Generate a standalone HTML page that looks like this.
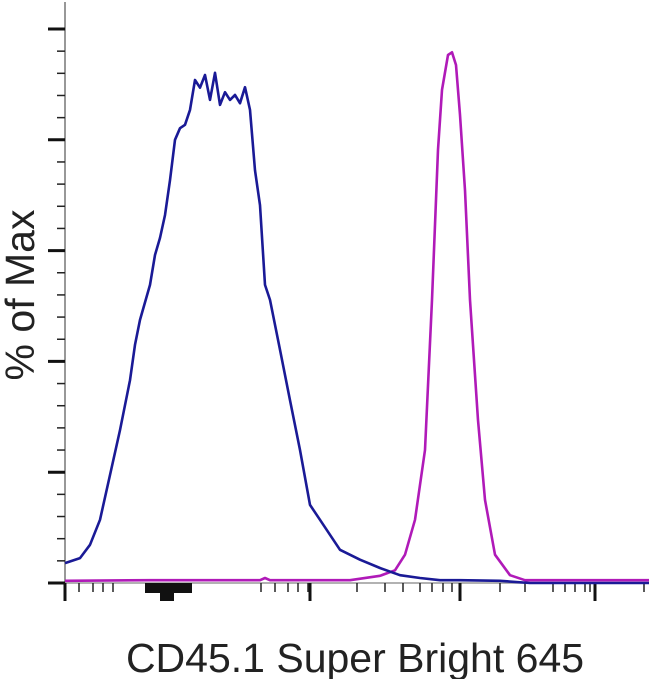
<!DOCTYPE html>
<html><head><meta charset="utf-8"><style>
html,body{margin:0;padding:0;background:#fff;}
svg{display:block;font-family:"Liberation Sans",sans-serif;}
</style></head><body>
<svg id="chart" width="650" height="679" viewBox="0 0 650 679">
<g id="axes"></g>
<g id="series"></g>
<text transform="translate(34,295) rotate(-90)" text-anchor="middle" font-size="41" fill="#222">% of Max</text>
<text x="355" y="672" text-anchor="middle" font-size="41" fill="#222">CD45.1 Super Bright 645</text>
</svg>
<script>
// channel values (linear display domain 0..584)
const blueX = [0,15,25,35,45,55,65,70,75,85,90,95,100,105,110,115,120,125,130,135,140,145,150,155,160,165,170,175,180,185,190,195,200,205,215,225,235,245,255,275,295,315,335,355,375,395,435,465,584];
const blueY = [3.6,4.5,6.9,11.4,19.5,27.6,36.6,43,47.5,53.8,59.2,62.3,66.4,72.7,80,82.1,82.7,85.4,90.8,89.4,91.7,87.2,92.1,86.3,88.6,87.2,88.1,86.6,89.5,85.4,74.5,68.2,53.8,51.1,42.1,33,24,14.1,11.4,6,4.2,2.7,1.4,0.9,0.5,0.5,0.4,0,0];
const magX = [0,85,195,200,205,285,315,330,340,350,360,367,373,377,383,387,391,395,400,405,413,420,430,445,460,584];
const magY = [0.4,0.5,0.5,0.9,0.5,0.5,1.3,2.3,5.1,11.4,24,51.1,78.2,89,95.3,95.8,93.5,84.5,70.9,51.1,29.4,15,5.1,1.4,0.5,0.5];
const yTicks = [0,20,40,60,80,100];
const xMajorTicks = [0,245,395,530];
const xMinorTicks = [14,28,38,48,196,210,223,233,243,292,320,338,355,367,378,387,435,460,488,500,510,520,525,579];

const X0=65,X1=649,Y0=583,Y1=29;
const xs=v=>X0+(v-0)/(584)*(X1-X0);
const ys=v=>Y0-(v/100)*(Y0-Y1);
const NS="http://www.w3.org/2000/svg";
const axes=document.getElementById('axes'), series=document.getElementById('series');
function mk(tag,attrs,parent){const e=document.createElementNS(NS,tag);for(const k in attrs)e.setAttribute(k,attrs[k]);parent.appendChild(e);return e;}

let l=mk('line',{x1:X0,y1:2,x2:X0,y2:Y0,stroke:'#777','stroke-width':1.5},axes);


l=mk('line',{x1:X0,y1:Y0,x2:X1,y2:Y0,stroke:'#999','stroke-width':1.5},axes);



for(let i=0;i<yTicks.length;i++){
  const y=ys(yTicks[i]);
  const t=mk('line',{x1:48,y1:y,x2:X0,y2:y,stroke:'#111','stroke-width':3},axes);
  
  
  if(i<yTicks.length-1){
    for(let k=1;k<5;k++){
      const ym=ys(yTicks[i]+k*(yTicks[i+1]-yTicks[i])/5);
      const m=mk('line',{x1:57,y1:ym,x2:X0,y2:ym,stroke:'#222','stroke-width':1.5},axes);
      
      
    }
  }
}
for(const v of xMajorTicks){
  const t=mk('line',{x1:xs(v),y1:Y0,x2:xs(v),y2:601,stroke:'#111','stroke-width':3},axes);
  
  
}
for(const v of xMinorTicks){
  const t=mk('line',{x1:xs(v),y1:Y0,x2:xs(v),y2:592,stroke:'#222','stroke-width':1.5},axes);
  
  
}
const cluster=mk('rect',{x:145,y:Y0,width:47,height:10,fill:'#111'},axes);


const cl2=mk('rect',{x:160,y:Y0,width:14,height:18,fill:'#111'},axes);



function path(xa,ya){return xa.map((v,i)=>(i?'L':'M')+xs(v).toFixed(1)+','+ys(ya[i]).toFixed(1)).join(' ');}
const pm=mk('path',{d:path(magX,magY),fill:'none',stroke:'#b01ab8','stroke-width':2.6,'stroke-linejoin':'round'},series);


const pb=mk('path',{d:path(blueX,blueY),fill:'none',stroke:'#1a1a96','stroke-width':2.6,'stroke-linejoin':'round'},series);


</script>
</body></html>
